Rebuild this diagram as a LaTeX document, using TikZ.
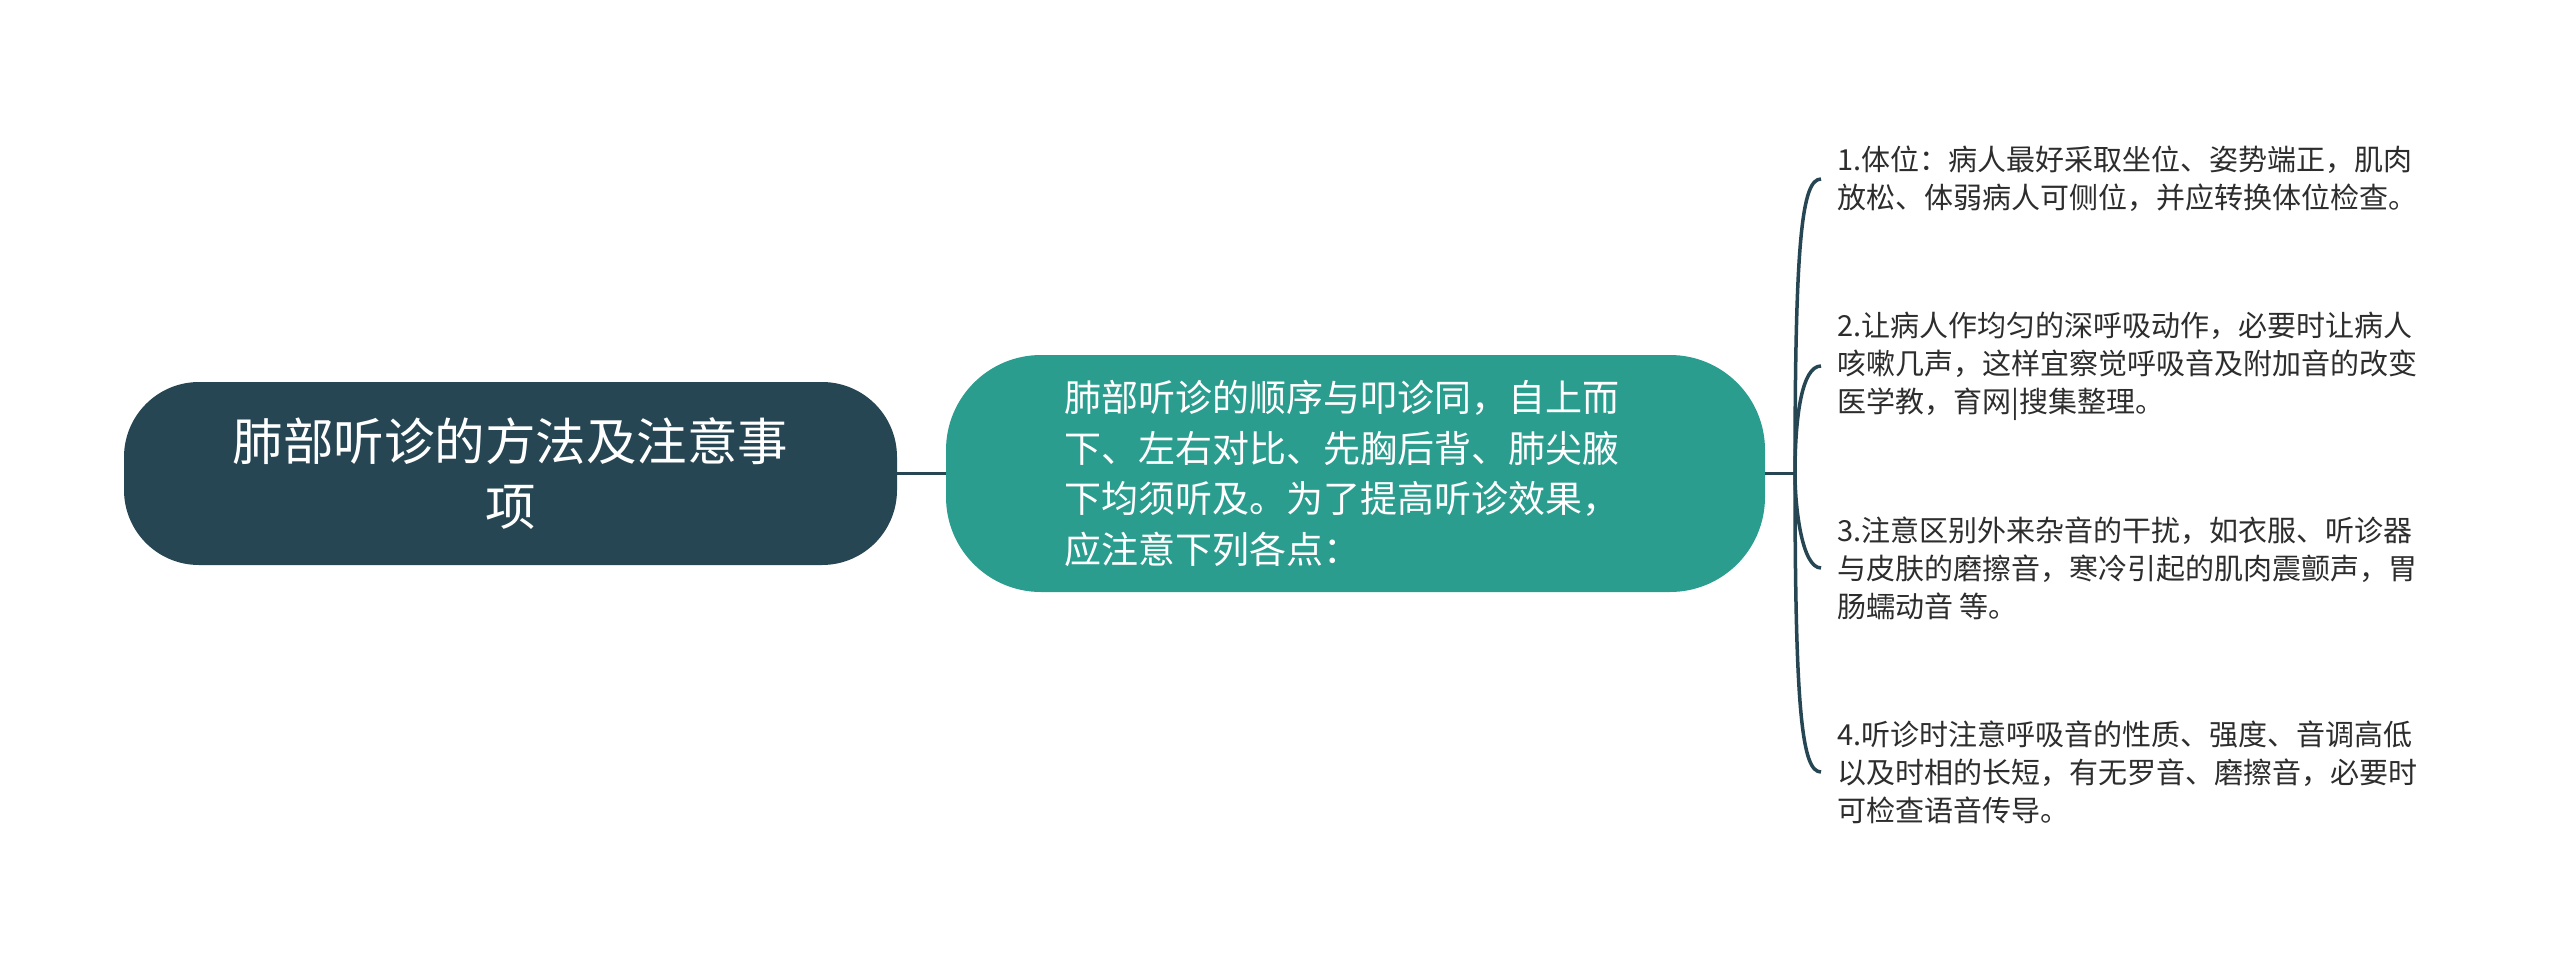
\documentclass[tikz,border=0pt]{standalone}
\usepackage{fontspec}
\setmainfont{Noto Sans CJK SC}
\usetikzlibrary{shapes,arrows,calc}
\definecolor{rootblue}{RGB}{38,70,83}
\definecolor{midteal}{RGB}{42,157,143}
\definecolor{leafgray}{RGB}{45,45,45}

\begin{document}
\begin{tikzpicture}[x=1pt,y=-1pt]
		\tikzstyle {root box} = [fill=rootblue, text=white, rounded corners=75pt, minimum width=773pt, minimum height=183pt, inner sep=0pt, align=center, font=\fontsize{50.5}{65}\selectfont]
		\tikzstyle {topic box} = [fill=midteal, text=white, rounded corners=95pt, minimum width=819pt, minimum height=237pt, inner sep=0pt, text width=583pt, align=left, font=\fontsize{37}{50.7}\selectfont]
		\tikzstyle {leaf} = [anchor=west, inner xsep=16pt, inner ysep=0pt, align=left, text=leafgray, font=\fontsize{29}{38}\selectfont]
		\tikzstyle {branch} = [draw=rootblue, line width=3.5pt]

		\fill[white] (0,0) rectangle (2560,967);
		\useasboundingbox (0,0) rectangle (2560,967);

		\node[root box] (root) at (510.5,473.5) {肺部听诊的方法及注意事\\项};
		\node[topic box] (topic) at (1355.5,473.5) {肺部听诊的顺序与叩诊同，自上而\\下、左右对比、先胸后背、肺尖腋\\下均须听及。为了提高听诊效果，\\应注意下列各点：};

		\coordinate (fork) at (1795,473.5);

		\node[leaf] (pos) at (1821,179) {1.体位：病人最好采取坐位、姿势端正，肌肉\\放松、体弱病人可侧位，并应转换体位检查。};
		\node[leaf] (breath) at (1821,366) {2.让病人作均匀的深呼吸动作，必要时让病人\\咳嗽几声，这样宜察觉呼吸音及附加音的改变\\医学教，育网|搜集整理。};
		\node[leaf] (noise) at (1821,568) {3.注意区别外来杂音的干扰，如衣服、听诊器\\与皮肤的磨擦音，寒冷引起的肌肉震颤声，胃\\肠蠕动音 等。};
		\node[leaf] (sound) at (1821,772) {4.听诊时注意呼吸音的性质、强度、音调高低\\以及时相的长短，有无罗音、磨擦音，必要时\\可检查语音传导。};

		% main line
		\draw[branch] (root.east) -- (topic.west);
		\draw[branch] (topic.east) -- (fork);

		% curved branches to the items
		\draw[branch] (fork) .. controls ($(fork |- pos.west)+(0,60)$) and ($(pos.west)+(-19,0)$) .. (pos.west);
		\draw[branch] (fork) .. controls ($(fork |- breath.west)+(0,50)$) and ($(breath.west)+(-19,0)$) .. (breath.west);
		\draw[branch] (fork) .. controls ($(fork |- noise.west)+(0,-60)$) and ($(noise.west)+(-19,0)$) .. (noise.west);
		\draw[branch] (fork) .. controls ($(fork |- sound.west)+(0,-60)$) and ($(sound.west)+(-19,0)$) .. (sound.west);
\end{tikzpicture}
\end{document}
